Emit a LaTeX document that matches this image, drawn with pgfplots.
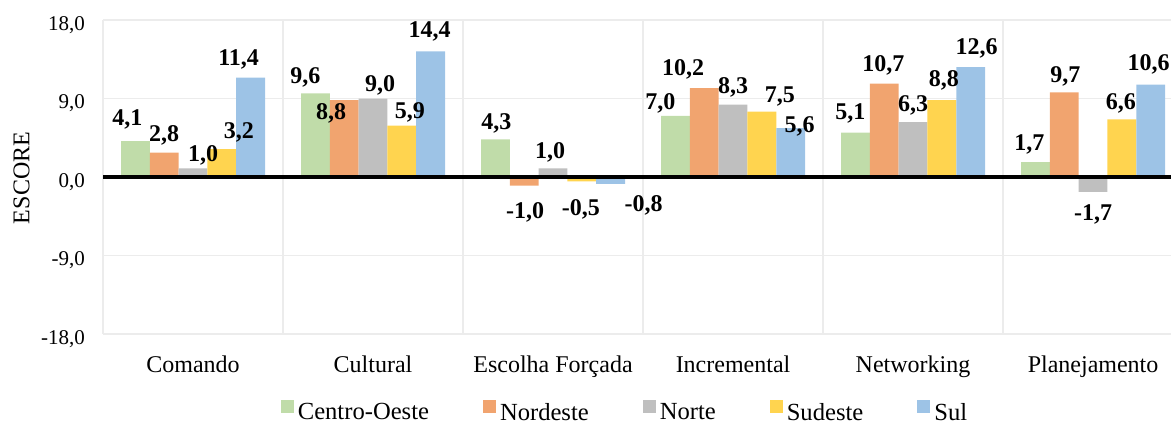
\documentclass[border=0pt]{standalone}
\usepackage{fontspec}
\setmainfont{Liberation Serif}
\usepackage{pgfplots}
\usepackage{pgfplotstable}
\pgfplotsset{compat=1.18}

\definecolor{cCO}{HTML}{C0DCA9}
\definecolor{cNE}{HTML}{F1A46F}
\definecolor{cN}{HTML}{BFBFBF}
\definecolor{cSE}{HTML}{FFD44F}
\definecolor{cS}{HTML}{9DC3E6}
\definecolor{gridc}{HTML}{ECECEC}

% x = category index, y = value, dx/dy = label offset (px)
\pgfplotstableread{
x y dx dy
0 4.1 -8 22
1 9.6 -10 16
2 4.3 1 16
3 7.0 -15 13
4 5.1 -5 19
5 1.7 -6 18
}\tCO
\pgfplotstableread{
x y dx dy
0 2.8 0 17
1 8.8 -13 -13
2 -1.0 1 -27
3 10.2 -21 19
4 10.7 -1 18
5 9.7 1 16
}\tNE
\pgfplotstableread{
x y dx dy
0 1.0 10 13
1 9.0 7 13
2 1.0 -3 16
3 8.3 0 17
4 6.3 0 17
5 -1.7 0 -23
}\tN
\pgfplotstableread{
x y dx dy
0 3.2 17 17
1 5.9 8 13
2 -0.5 -1 -28
3 7.5 18 15
4 8.8 2 20
5 6.6 -1 16
}\tSE
\pgfplotstableread{
x y dx dy
0 11.4 -12 18
1 14.4 -1 20
2 -0.8 33 -21
3 5.6 9 2
4 12.6 6 19
5 10.6 -2 20
}\tS

\pgfplotsset{
  sqlegend/.style={legend image code/.code={\fill[##1] (0pt,0pt) rectangle (6.5pt,6.5pt);}},
  labplot/.style={
    sharp plot, draw=none, mark=none, forget plot, bar shift=0pt,
    point meta=explicit,
    nodes near coords={\pgfmathprintnumber[fixed,fixed zerofill,precision=1,use comma]{\pgfplotspointmeta}},
    every node near coord/.append style={font=\bfseries\fontsize{12}{14}\selectfont, text=black, anchor=center},
  },
}

\begin{document}
\begin{tikzpicture}
\path[use as bounding box] (0,0) rectangle (585.5pt,213.5pt);
\begin{axis}[
  at={(51.5pt,46.5pt)}, anchor=south west,
  scale only axis, width=534pt, height=157pt,
  ybar, bar width=0.16,
  xmin=-0.5, xmax=5.433, ymin=-18, ymax=18,
  ytick={-18,-9,0,9,18},
  xtick={0,1,2,3,4,5},
  xticklabels={Comando,Cultural,Escolha Forçada,Incremental,Networking,Planejamento},
  minor xtick={-0.5,0.5,1.5,2.5,3.5,4.5},
  xminorgrids, ymajorgrids,
  major tick length=0pt, minor tick length=0pt,
  major grid style={draw=gridc, line width=0.7pt},
  minor grid style={draw=gridc, line width=0.7pt},
  axis line style={draw=none},
  /pgf/number format/assume math mode=true,
  yticklabel style={/pgf/number format/.cd, fixed, fixed zerofill, precision=1, use comma, /tikz/.cd, font=\fontsize{10.5}{12}\selectfont, xshift=-5.5pt, yshift=-2.5pt},
  xticklabel style={font=\fontsize{12}{14}\selectfont, anchor=base, yshift=-19.3pt},
  legend columns=5,
  legend cell align=left,
  legend style={at={(axis description cs:0.4897,-0.252)}, anchor=center, draw=none, fill=none, inner sep=1pt, font=\fontsize{12.3}{14}\selectfont, /tikz/every even column/.append style={column sep=25pt}},
]
\addplot[fill=cCO, draw=none, bar shift=-0.32, forget plot] table[x=x,y=y]{\tCO};
\addplot[fill=cNE, draw=none, bar shift=-0.16, forget plot] table[x=x,y=y]{\tNE};
\addplot[fill=cN, draw=none, bar shift=0, forget plot] table[x=x,y=y]{\tN};
\addplot[fill=cSE, draw=none, bar shift=0.16, forget plot] table[x=x,y=y]{\tSE};
\addplot[fill=cS, draw=none, bar shift=0.32, forget plot] table[x=x,y=y]{\tS};
\draw[black, line width=2pt] (axis cs:-0.5,0) -- (axis cs:5.433,0);
% value labels (offsets in px converted to axis units)
\addplot[labplot] table[x expr=\thisrow{x}-0.32+\thisrow{dx}/180, y expr=\thisrow{y}+\thisrow{dy}/8.722, meta=y]{\tCO};
\addplot[labplot] table[x expr=\thisrow{x}-0.16+\thisrow{dx}/180, y expr=\thisrow{y}+\thisrow{dy}/8.722, meta=y]{\tNE};
\addplot[labplot] table[x expr=\thisrow{x}+\thisrow{dx}/180, y expr=\thisrow{y}+\thisrow{dy}/8.722, meta=y]{\tN};
\addplot[labplot] table[x expr=\thisrow{x}+0.16+\thisrow{dx}/180, y expr=\thisrow{y}+\thisrow{dy}/8.722, meta=y]{\tSE};
\addplot[labplot] table[x expr=\thisrow{x}+0.32+\thisrow{dx}/180, y expr=\thisrow{y}+\thisrow{dy}/8.722, meta=y]{\tS};
\addlegendimage{fill=cCO, draw=none, sqlegend}
\addlegendentry{Centro-Oeste}
\addlegendimage{fill=cNE, draw=none, sqlegend}
\addlegendentry{Nordeste}
\addlegendimage{fill=cN, draw=none, sqlegend}
\addlegendentry{Norte}
\addlegendimage{fill=cSE, draw=none, sqlegend}
\addlegendentry{Sudeste}
\addlegendimage{fill=cS, draw=none, sqlegend}
\addlegendentry{Sul}
\end{axis}
\node[rotate=90, font=\fontsize{12}{14}\selectfont] at (10.8pt,124.5pt) {ESCORE};
\end{tikzpicture}
\end{document}
